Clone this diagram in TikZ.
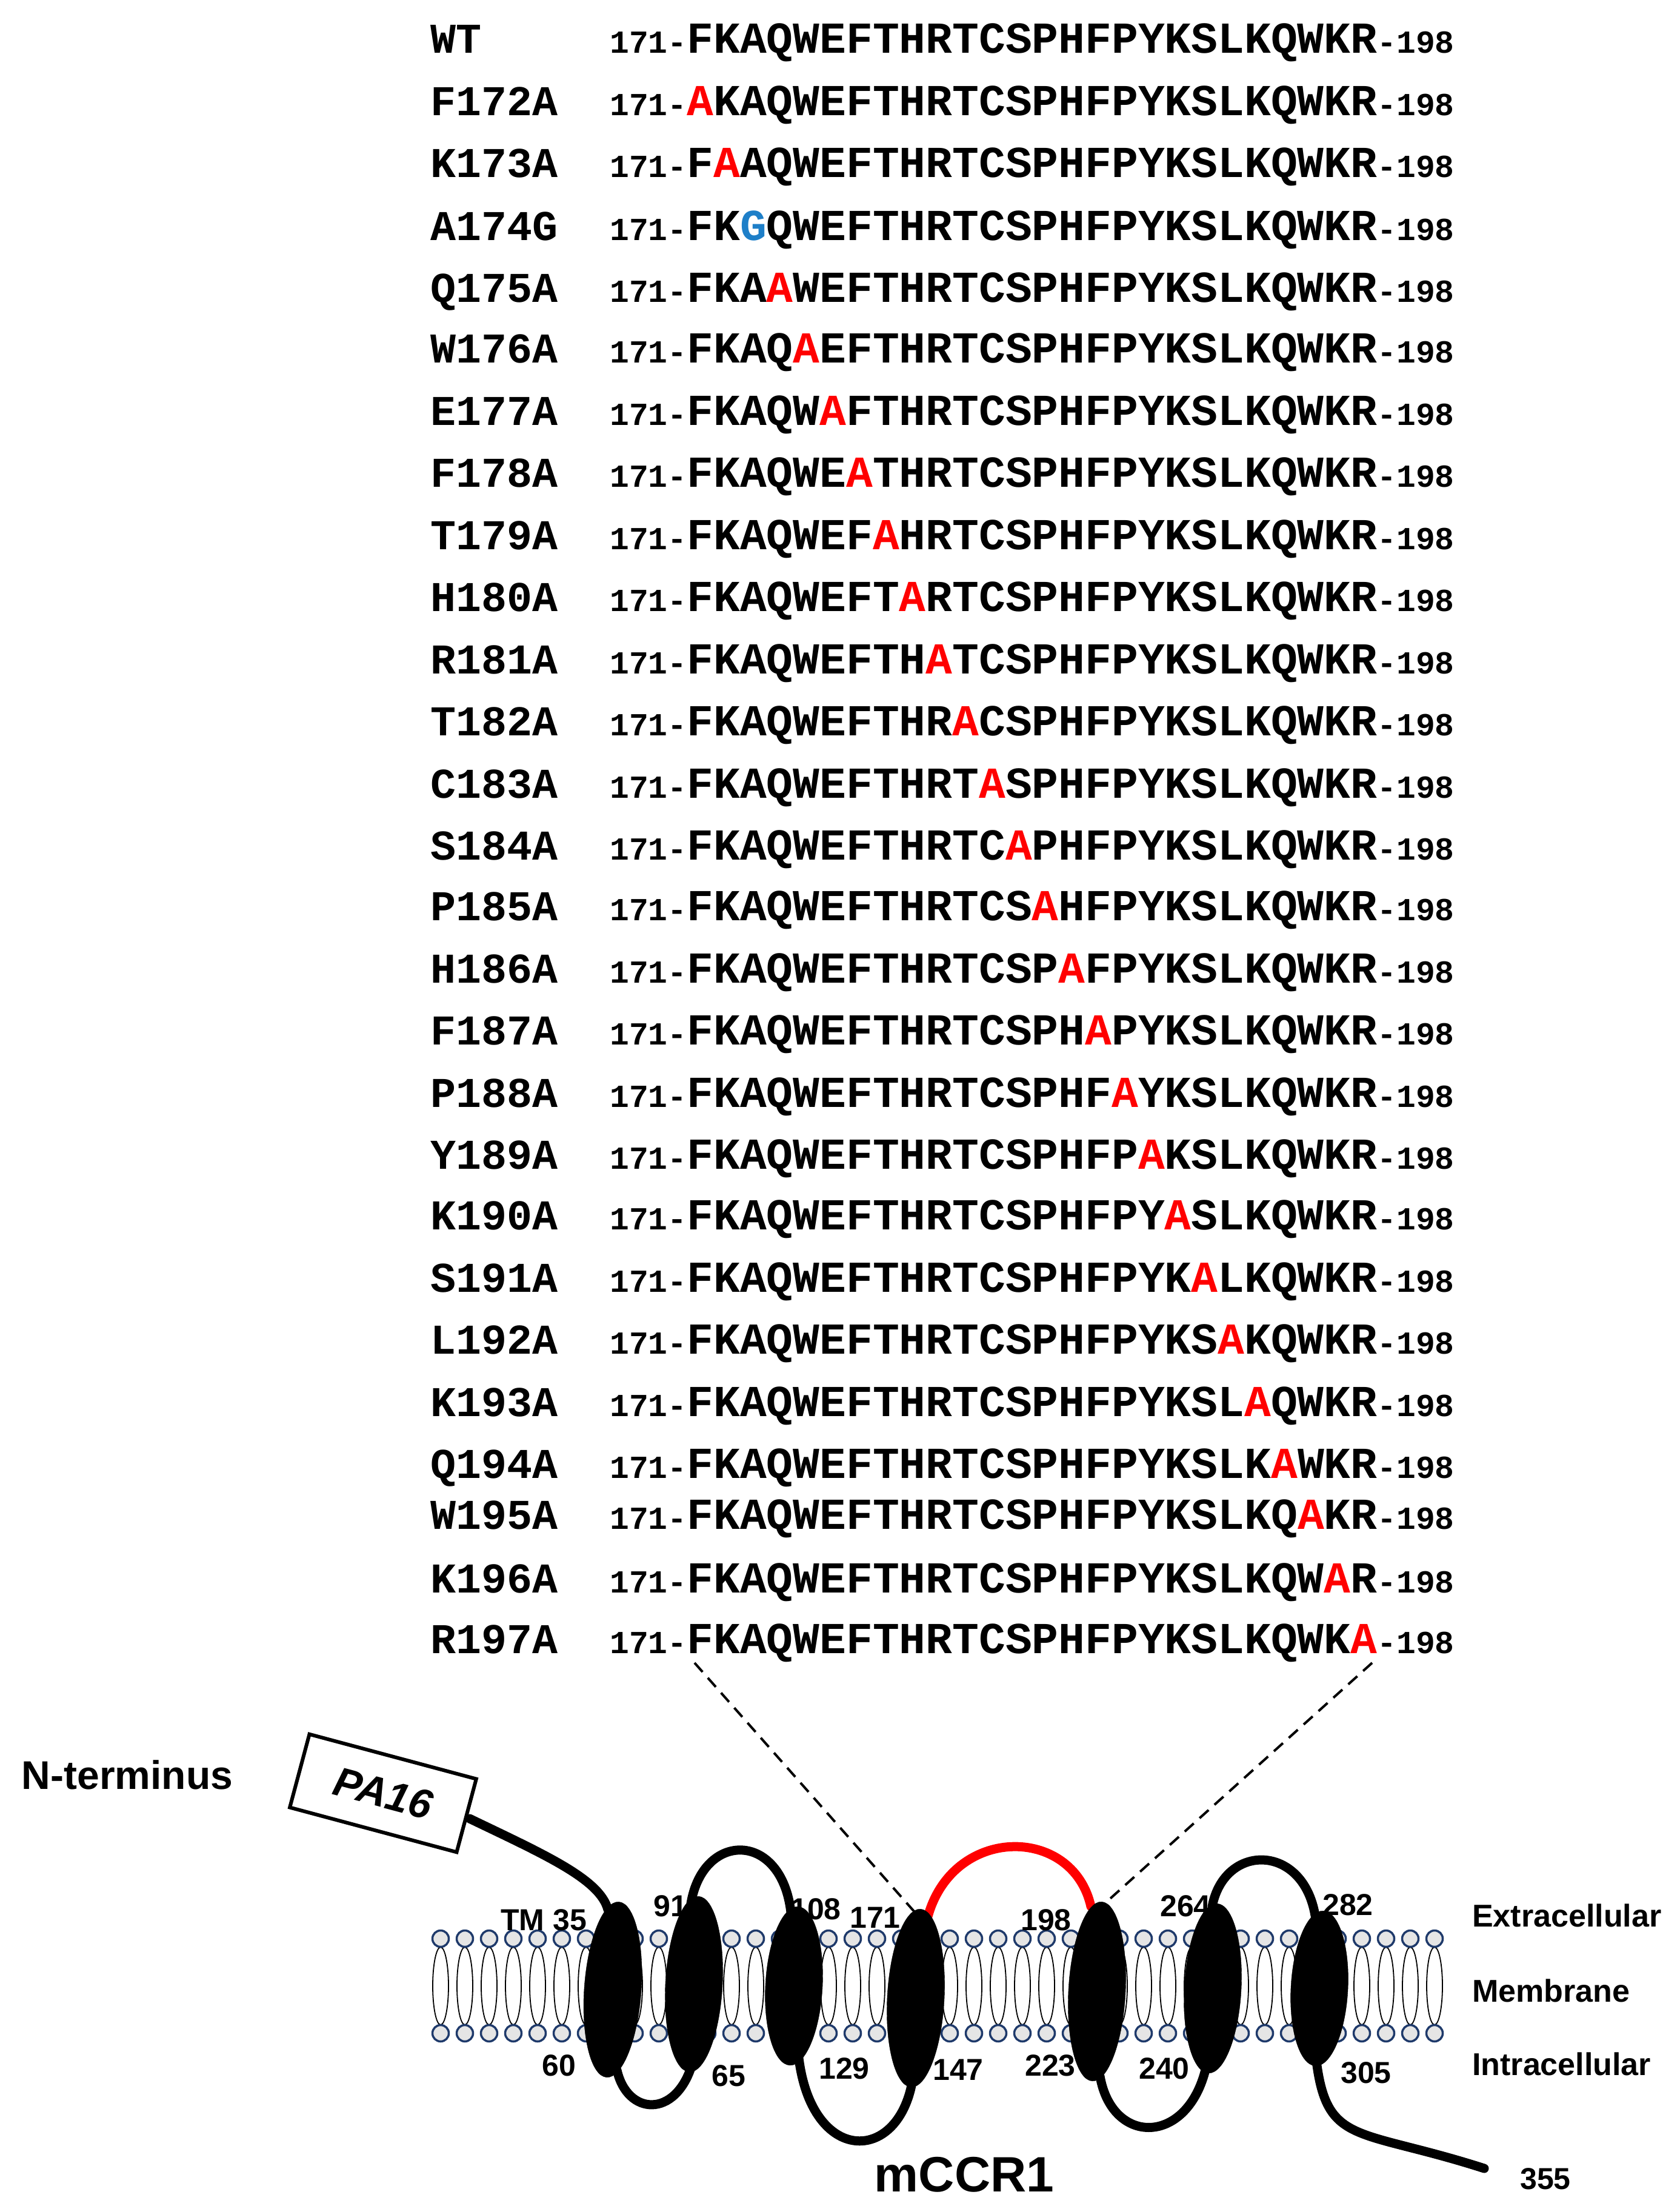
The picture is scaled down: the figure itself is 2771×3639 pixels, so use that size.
\documentclass[tikz,border=0pt]{standalone}
\usepackage{fontspec}
\setmainfont{Liberation Sans}
\newfontfamily\seqfont{Liberation Mono}
\usetikzlibrary{shapes.geometric}
\definecolor{mred}{HTML}{FF0000}
\definecolor{mblue}{HTML}{1E7FC8}
\definecolor{headblue}{HTML}{1F3A6B}
\newcommand{\srow}[6]{%
  \node[anchor=base west,inner sep=0] (l#2) at (710,#1+23) {\seqfont\bfseries\fontsize{70}{80}\selectfont #2};
  \node[anchor=base west,inner sep=0] (s#2) at (1006,#1+23) {\seqfont\bfseries{\fontsize{53}{60}\selectfont 171-}{\fontsize{73}{80}\selectfont #3\textcolor{#6}{#4}#5}{\fontsize{53}{60}\selectfont -198}};}
\begin{document}
\begin{tikzpicture}[x=1pt,y=-1pt,
  loop/.style={line width=15pt,line cap=round},
  helix/.style={ellipse,fill=black,draw=black,inner sep=0,minimum width=94pt},
  lbl/.style={font=\bfseries\fontsize{50}{56}\selectfont,inner sep=0},
  side/.style={font=\bfseries\fontsize{52}{58}\selectfont,anchor=west,inner sep=0}]
\useasboundingbox (0,0) rectangle (2771,3639);
\srow{65}{WT}{FKAQWEFTHRTCSPHFPYKSLKQWKR}{}{}{black}
\srow{168}{F172A}{}{A}{KAQWEFTHRTCSPHFPYKSLKQWKR}{mred}
\srow{270}{K173A}{F}{A}{AQWEFTHRTCSPHFPYKSLKQWKR}{mred}
\srow{373}{A174G}{FK}{G}{QWEFTHRTCSPHFPYKSLKQWKR}{mblue}
\srow{475}{Q175A}{FKA}{A}{WEFTHRTCSPHFPYKSLKQWKR}{mred}
\srow{575}{W176A}{FKAQ}{A}{EFTHRTCSPHFPYKSLKQWKR}{mred}
\srow{678}{E177A}{FKAQW}{A}{FTHRTCSPHFPYKSLKQWKR}{mred}
\srow{780}{F178A}{FKAQWE}{A}{THRTCSPHFPYKSLKQWKR}{mred}
\srow{883}{T179A}{FKAQWEF}{A}{HRTCSPHFPYKSLKQWKR}{mred}
\srow{985}{H180A}{FKAQWEFT}{A}{RTCSPHFPYKSLKQWKR}{mred}
\srow{1088}{R181A}{FKAQWEFTH}{A}{TCSPHFPYKSLKQWKR}{mred}
\srow{1190}{T182A}{FKAQWEFTHR}{A}{CSPHFPYKSLKQWKR}{mred}
\srow{1293}{C183A}{FKAQWEFTHRT}{A}{SPHFPYKSLKQWKR}{mred}
\srow{1395}{S184A}{FKAQWEFTHRTC}{A}{PHFPYKSLKQWKR}{mred}
\srow{1495}{P185A}{FKAQWEFTHRTCS}{A}{HFPYKSLKQWKR}{mred}
\srow{1598}{H186A}{FKAQWEFTHRTCSP}{A}{FPYKSLKQWKR}{mred}
\srow{1700}{F187A}{FKAQWEFTHRTCSPH}{A}{PYKSLKQWKR}{mred}
\srow{1803}{P188A}{FKAQWEFTHRTCSPHF}{A}{YKSLKQWKR}{mred}
\srow{1905}{Y189A}{FKAQWEFTHRTCSPHFP}{A}{KSLKQWKR}{mred}
\srow{2005}{K190A}{FKAQWEFTHRTCSPHFPY}{A}{SLKQWKR}{mred}
\srow{2108}{S191A}{FKAQWEFTHRTCSPHFPYK}{A}{LKQWKR}{mred}
\srow{2210}{L192A}{FKAQWEFTHRTCSPHFPYKS}{A}{KQWKR}{mred}
\srow{2313}{K193A}{FKAQWEFTHRTCSPHFPYKSL}{A}{QWKR}{mred}
\srow{2415}{Q194A}{FKAQWEFTHRTCSPHFPYKSLK}{A}{WKR}{mred}
\srow{2499}{W195A}{FKAQWEFTHRTCSPHFPYKSLKQ}{A}{KR}{mred}
\srow{2604}{K196A}{FKAQWEFTHRTCSPHFPYKSLKQW}{A}{R}{mred}
\srow{2704}{R197A}{FKAQWEFTHRTCSPHFPYKSLKQWK}{A}{}{mred}
% dashed lines
\coordinate (dL1) at (1146,2743); \coordinate (dL2) at (1525,3172);
\coordinate (dR1) at (2264,2743); \coordinate (dR2) at (1805,3156);
\draw[line width=4pt,dash pattern=on 20pt off 13pt] (dL1) -- (dL2);
\draw[line width=4pt,dash pattern=on 20pt off 13pt] (dR1) -- (dR2);
% membrane
\foreach \i in {0,...,41}{
  \draw[line width=1.8pt] (727+40*\i,3276) ellipse (13 and 64);
  \draw[headblue,fill=gray!20,line width=3.5pt] (727+40*\i,3198) circle (13.5);
  \draw[headblue,fill=gray!20,line width=3.5pt] (727+40*\i,3354) circle (13.5);
}
% loops
\draw[loop] (775,3000) .. controls (900,3060) and (990,3100) .. (1003,3150);
\draw[loop] (1018,3415) .. controls (1035,3490) and (1115,3495) .. (1142,3405);
\draw[loop] (1140,3140) .. controls (1160,3020) and (1290,3020) .. (1305,3155);
\draw[loop] (1318,3395) .. controls (1340,3570) and (1480,3570) .. (1505,3435);
\draw[loop,mred] (1530,3165) .. controls (1570,3010) and (1770,3010) .. (1800,3145);
\draw[loop] (1815,3425) .. controls (1835,3540) and (1960,3540) .. (1990,3410);
\draw[loop] (2000,3145) .. controls (2020,3040) and (2150,3040) .. (2170,3160);
\draw[loop] (2172,3400) .. controls (2190,3540) and (2240,3510) .. (2449,3577);
% helices
\node[helix,minimum height=290pt,rotate=-4] (h1) at (1011,3282) {};
\node[helix,minimum height=290pt,rotate=-3] (h2) at (1145,3273) {};
\node[helix,minimum height=262pt,rotate=-3] (h3) at (1310,3276) {};
\node[helix,minimum height=294pt,rotate=-3] (h4) at (1511,3296) {};
\node[helix,minimum height=296pt,rotate=-3] (h5) at (1810,3285) {};
\node[helix,minimum height=280pt,rotate=-3] (h6) at (2001,3280) {};
\node[helix,minimum height=256pt,rotate=-3] (h7) at (2177,3280) {};
% PA16 box
\node[draw,line width=6pt,fill=white,minimum width=285pt,minimum height=125pt,rotate=-15,
  font=\bfseries\itshape\fontsize{68}{74}\selectfont] (pa) at (632,2958) {PA16};
\node[font=\bfseries\fontsize{66}{72}\selectfont,inner sep=0] (nt) at (210,2928) {N-terminus};
% numbers
\node[lbl] (n35) at (897,3167) {TM 35};
\node[lbl] (n91) at (1106,3144) {91};
\node[lbl] (n108) at (1346,3149) {108};
\node[lbl] (n171) at (1444,3163) {171};
\node[lbl] (n198) at (1726,3167) {198};
\node[lbl] (n264) at (1956,3144) {264};
\node[lbl] (n282) at (2224,3142) {282};
\node[lbl] (n60) at (922,3407) {60};
\node[lbl] (n65) at (1202,3424) {65};
\node[lbl] (n129) at (1393,3412) {129};
\node[lbl] (n147) at (1581,3414) {147};
\node[lbl] (n223) at (1733,3407) {223};
\node[lbl] (n240) at (1921,3412) {240};
\node[lbl] (n305) at (2254,3419) {305};
\node[lbl] (n355) at (2550,3594) {355};
\node[font=\bfseries\fontsize{82}{88}\selectfont,inner sep=0] (m) at (1591,3587) {mCCR1};
\node[side] (ex) at (2429,3160) {Extracellular};
\node[side] (me) at (2429,3284) {Membrane};
\node[side] (in) at (2429,3405) {Intracellular};
\end{tikzpicture}
\end{document}
